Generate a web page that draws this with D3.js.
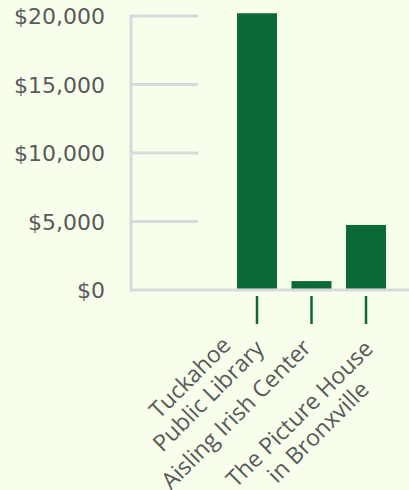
<!DOCTYPE html>
<html><head><meta charset="utf-8">
<script src="https://cdn.jsdelivr.net/npm/d3@7"></script>
<style>
html,body{margin:0;padding:0;background:#f7feec;}
svg{display:block;}
</style></head><body>
<svg id="c" width="409" height="490"></svg>
<script>
const categories = [["Tuckahoe","Public Library"],["Aisling Irish Center"],["The Picture House","in Bronxville"]];
const values = [20200, 650, 4750];
const yTicks = [0, 5000, 10000, 15000, 20000];
const yTickLabels = ["$0","$5,000","$10,000","$15,000","$20,000"];

const svg = d3.select("#c");
const yFont = "'DejaVu Sans', sans-serif";
const xFont = "'Open Sans', sans-serif";
const textColor = "#595959";
const y = d3.scaleLinear().domain([0, 20000]).range([290, 16]);
const x = d3.scaleBand().domain(d3.range(categories.length)).range([229.75, 393.25]).paddingInner(0.266).paddingOuter(0.133);

// gridlines
svg.append("g").selectAll("line").data(yTicks).join("line")
  .attr("x1", 131).attr("x2", d => d === 0 ? 409 : 198)
  .attr("y1", d => y(d)).attr("y2", d => y(d))
  .attr("stroke", "#d9d9d9").attr("stroke-width", 3);
svg.append("line").attr("x1", 131).attr("x2", 131).attr("y1", y(20000)-1.5).attr("y2", y(0)+1.5)
  .attr("stroke", "#d9d9d9").attr("stroke-width", 3);

// y labels
svg.append("g").selectAll("text").data(yTicks).join("text")
  .attr("x", 105).attr("y", d => y(d)).attr("dy", "0.38em")
  .attr("text-anchor", "end").attr("fill", textColor)
  .style("font-family", yFont).style("font-size", "22px")
  .text((d, i) => yTickLabels[i]);

// bars
svg.append("g").selectAll("rect").data(values).join("rect")
  .attr("x", (d, i) => x(i)).attr("width", x.bandwidth())
  .attr("y", d => y(d)).attr("height", d => y(0) - y(d) - 1.5)
  .attr("fill", "#0b6837");

// ticks
svg.append("g").selectAll("line").data(categories).join("line")
  .attr("x1", (d, i) => x(i) + x.bandwidth()/2).attr("x2", (d, i) => x(i) + x.bandwidth()/2)
  .attr("y1", 296).attr("y2", 324)
  .attr("stroke", "#0b6837").attr("stroke-width", 2.5);

// labels: widest line's end anchored near the tick, lines centred
const lh = 26;
const lg = svg.append("g").selectAll("g").data(categories).join("g")
  .attr("transform", (d, i) => `translate(${x(i) + x.bandwidth()/2 + 1 + 7.5 * (d.length - 1)},${349 + (d.length - 1)}) rotate(-45)`);
lg.each(function(lines) {
  const g = d3.select(this);
  const ts = lines.map(t => g.append("text")
    .attr("text-anchor", "middle").attr("fill", textColor)
    .style("font-family", xFont).style("font-size", "23px").text(t));
  const ws = ts.map(t => t.node().getComputedTextLength());
  const w = d3.max(ws);
  const m = ws.indexOf(w);
  ts.forEach((t, k) => t.attr("x", -w/2).attr("y", (k - m) * lh));
});
</script>
</body></html>
